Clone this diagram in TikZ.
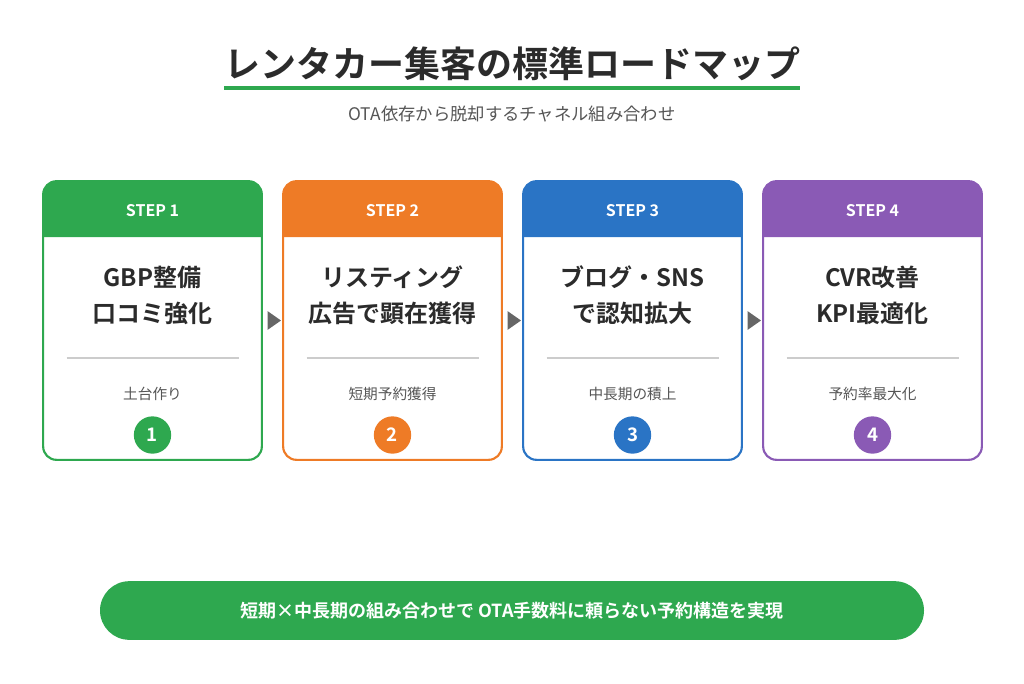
\documentclass[tikz,border=0pt]{standalone}
\usepackage{fontspec}
\setmainfont{Noto Sans CJK JP}[BoldFont={Noto Sans CJK JP Bold}]
\usetikzlibrary{shapes.geometric,calc}
\definecolor{stgreen}{HTML}{2EA84F}
\definecolor{storange}{HTML}{EE7B26}
\definecolor{stblue}{HTML}{2A74C5}
\definecolor{stpurple}{HTML}{8A5AB5}
\definecolor{txdark}{HTML}{2B2B2B}
\definecolor{txgray}{HTML}{555555}
\tikzset{
    card/.style={draw=#1,line width=1.6pt,rounded corners=10pt,minimum width=164pt,minimum height=209pt,inner sep=0pt},
    headtxt/.style={text=white,font=\bfseries\fontsize{12}{14}\selectfont},
    maintxt/.style={text=txdark,font=\bfseries\fontsize{18}{27}\selectfont,align=center},
    subtxt/.style={text=txgray,font=\fontsize{11}{13}\selectfont},
    badge/.style={circle,fill=#1,minimum size=28pt,inner sep=0pt,text=white,font=\bfseries\fontsize{14}{16}\selectfont},
    tri/.style={isosceles triangle,fill=gray!80!black,minimum width=12pt,minimum height=10pt,inner sep=0pt,isosceles triangle apex angle=70}
}
\begin{document}
\begin{tikzpicture}[x=0.75pt,y=-0.75pt]
    \useasboundingbox (0,0) rectangle (1024,683);
    % title
    \node[text=txdark,font=\bfseries\fontsize{27}{30}\selectfont] (title) at (512,64) {レンタカー集客の標準ロードマップ};
    \draw[stgreen,line width=3pt] (224,88) coordinate (ul) -- (800,88) coordinate (ur);
    \node[text=txgray,font=\fontsize{13}{15}\selectfont] (subtitle) at (512,114) {OTA依存から脱却するチャネル組み合わせ};
    % cards
    \foreach \i/\x/\c/\a/\b/\s in {
        1/152.5/stgreen/GBP整備/口コミ強化/土台作り,
        2/392.5/storange/リスティング/広告で顕在獲得/短期予約獲得,
        3/632.5/stblue/ブログ・SNS/で認知拡大/中長期の積上,
        4/872.5/stpurple/CVR改善/KPI最適化/予約率最大化} {
        \fill[\c] (\x-109,237) {[rounded corners=10pt] -- (\x-109,181) -- (\x+109,181)} -- (\x+109,237) -- cycle;
        \node[card=\c] (card\i) at (\x,320.5) {};
        \node[headtxt] (head\i) at (\x,211) {STEP \i};
        \node[maintxt] (main\i) at (\x,295) {\a\\\b};
        \draw[gray!40,line width=0.8pt] (\x-86,358) -- (\x+86,358);
        \node[subtxt] (sub\i) at (\x,394) {\s};
        \node[badge=\c] (num\i) at (\x,435) {\i};
    }
    % arrows
    \foreach \i [evaluate=\i as \j using int(\i+1)] in {1,2,3} {
        \path (card\i.east) -- node[tri] (arr\i) {} (card\j.west);
    }
    % banner
    \node[fill=stgreen,rounded corners=22pt,minimum width=618pt,minimum height=44pt,text=white,font=\bfseries\fontsize{13.5}{16}\selectfont] (banner) at (512,610.5) {短期×中長期の組み合わせで OTA手数料に頼らない予約構造を実現};
\end{tikzpicture}
\end{document}
